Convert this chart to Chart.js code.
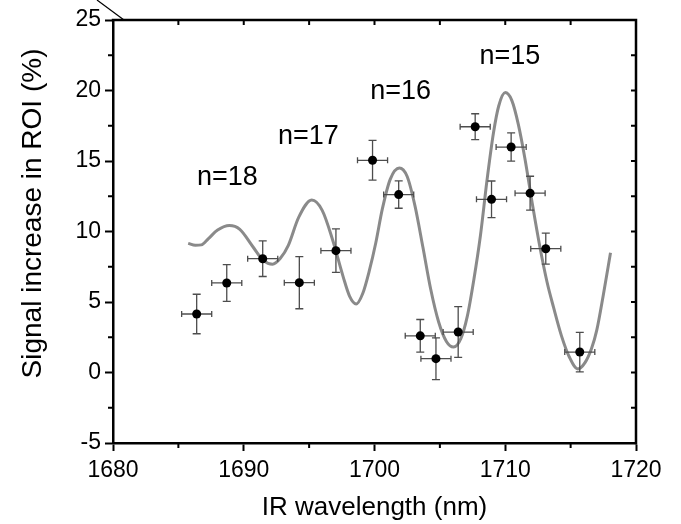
<!DOCTYPE html>
<html>
<head>
<meta charset="utf-8">
<script src="https://cdn.jsdelivr.net/npm/chart.js@4.4.1/dist/chart.umd.min.js"></script>
<style>
  html, body { margin: 0; padding: 0; background: #fff; }
</style>
</head>
<body>
<canvas id="chart" width="681" height="524"></canvas>
<script>
// measured points (nm, %), with error bars
const wavelength    = [1686.4, 1688.7, 1691.45, 1694.25, 1697.05, 1699.85, 1701.85, 1703.5, 1704.7, 1706.4, 1707.7, 1708.95, 1710.45, 1711.9, 1713.1, 1715.7]
const signal        = [4.15, 6.35, 8.07, 6.37, 8.64, 15.05, 12.62, 2.6, 0.98, 2.87, 17.43, 12.28, 15.99, 12.72, 8.78, 1.45]
const signalErr     = [1.4, 1.3, 1.26, 1.85, 1.54, 1.41, 0.97, 1.16, 1.48, 1.8, 0.92, 1.3, 1.0, 1.2, 1.1, 1.4]
const wavelengthErr = [1.15, 1.15, 1.15, 1.15, 1.15, 1.15, 1.15, 1.15, 1.15, 1.15, 1.15, 1.15, 1.15, 1.15, 1.15, 1.15]

// fitted curve
const fitX = [1685.75, 1686.3, 1686.75, 1687.3, 1688.0, 1688.9, 1689.7, 1690.7, 1691.5, 1692.2, 1692.8, 1693.4, 1694.2, 1695.2, 1696.0, 1696.8, 1697.6, 1698.1, 1698.6, 1699.1, 1699.6, 1700.1, 1700.6, 1701.2, 1701.9, 1702.5, 1703.1, 1703.7, 1704.3, 1704.9, 1705.5, 1706.05, 1706.6, 1707.1, 1707.6, 1708.1, 1708.6, 1709.1, 1709.5, 1710.0, 1710.5, 1711.0, 1711.5, 1712.1, 1712.65, 1713.2, 1713.7, 1714.3, 1714.9, 1715.55, 1716.1, 1716.6, 1717.0, 1717.5, 1718.05]
const fitY = [9.16, 9.02, 9.05, 9.5, 10.1, 10.42, 10.15, 8.92, 7.95, 7.68, 8.1, 9.0, 11.0, 12.23, 11.5, 9.4, 6.8, 5.4, 4.86, 5.6, 7.2, 9.2, 11.6, 13.7, 14.5, 13.9, 11.8, 8.9, 5.9, 3.6, 2.2, 1.8, 2.4, 4.0, 6.6, 9.7, 13.6, 17.0, 18.9, 19.85, 19.3, 17.6, 15.2, 11.8, 8.9, 6.4, 4.6, 2.6, 1.1, 0.25, 0.7, 1.7, 3.0, 5.5, 8.5]

// order labels
const orderLabels = ['n=18', 'n=17', 'n=16', 'n=15']
const orderX = [1688.75, 1694.95, 1702.0, 1710.35]
const orderY = [13.8, 16.7, 19.95, 22.4]

const xTicks = [1680, 1690, 1700, 1710, 1720]
const xMinor = [1685, 1695, 1705, 1715]
const yTicks = [-5, 0, 5, 10, 15, 20, 25]
const yMinor = [-2.5, 2.5, 7.5, 12.5, 17.5, 22.5]
const yTitle = 'Signal increase in ROI (%)'

const FONT = "'Liberation Sans', Arial, sans-serif"

const errorBars = {
  id: 'errorBars',
  beforeDatasetDraw(chart, args) {
    if (args.index !== 0) return
    const {ctx, scales: {x, y}} = chart
    ctx.save()
    ctx.strokeStyle = '#4d4d4d'
    ctx.lineWidth = 1.3
    ctx.beginPath()
    wavelength.forEach((w, i) => {
      const px = x.getPixelForValue(w)
      const py = y.getPixelForValue(signal[i])
      const x0 = x.getPixelForValue(w - wavelengthErr[i])
      const x1 = x.getPixelForValue(w + wavelengthErr[i])
      const y0 = y.getPixelForValue(signal[i] - signalErr[i])
      const y1 = y.getPixelForValue(signal[i] + signalErr[i])
      ctx.moveTo(x0, py); ctx.lineTo(x1, py)
      ctx.moveTo(px, y0); ctx.lineTo(px, y1)
      ctx.moveTo(x0, py - 3); ctx.lineTo(x0, py + 3)
      ctx.moveTo(x1, py - 3); ctx.lineTo(x1, py + 3)
      ctx.moveTo(px - 4, y0); ctx.lineTo(px + 4, y0)
      ctx.moveTo(px - 4, y1); ctx.lineTo(px + 4, y1)
    })
    ctx.stroke()
    ctx.restore()
  }
}

const frame = {
  id: 'frame',
  afterDraw(chart) {
    const {ctx, chartArea: a, scales: {x, y}} = chart
    ctx.save()
    ctx.strokeStyle = '#000'
    ctx.lineCap = 'square'
    // top and right border
    ctx.lineWidth = 2.5
    ctx.beginPath()
    ctx.moveTo(a.left, a.top); ctx.lineTo(a.right, a.top); ctx.lineTo(a.right, a.bottom)
    ctx.stroke()
    ctx.lineCap = 'butt'
    ctx.lineWidth = 2
    ctx.beginPath()
    // minor ticks outward
    xMinor.forEach(v => { const p = x.getPixelForValue(v); ctx.moveTo(p, a.bottom); ctx.lineTo(p, a.bottom + 5) })
    yMinor.forEach(v => { const p = y.getPixelForValue(v); ctx.moveTo(a.left, p); ctx.lineTo(a.left - 5, p) })
    // inward ticks on top and right
    xTicks.concat(xMinor).forEach(v => { const p = x.getPixelForValue(v); ctx.moveTo(p, a.top); ctx.lineTo(p, a.top + 5) })
    yTicks.concat(yMinor).forEach(v => { const p = y.getPixelForValue(v); ctx.moveTo(a.right, p); ctx.lineTo(a.right - 5, p) })
    ctx.stroke()
    // small stray line at top-left corner
    ctx.lineWidth = 1.2
    ctx.beginPath()
    ctx.moveTo(a.left - 16, 0); ctx.lineTo(a.left + 11, a.top)
    ctx.stroke()
    ctx.fillStyle = '#000'
    ctx.textAlign = 'center'
    ctx.textBaseline = 'middle'
    // y title, sitting a bit above the plot centre like the original
    ctx.save()
    ctx.translate(33, (a.top + a.bottom) / 2 - 18)
    ctx.rotate(-Math.PI / 2)
    ctx.font = `28px ${FONT}`
    ctx.fillText(yTitle, 0, 0)
    ctx.restore()
    // order labels
    ctx.font = `27px ${FONT}`
    orderLabels.forEach((t, i) => ctx.fillText(t, x.getPixelForValue(orderX[i]), y.getPixelForValue(orderY[i])))
    ctx.restore()
  }
}

new Chart(document.getElementById('chart'), {
  type: 'scatter',
  data: {
    datasets: [
      {
        data: wavelength.map((w, i) => ({x: w, y: signal[i]})),
        pointRadius: 4.5,
        pointBackgroundColor: '#000',
        pointBorderWidth: 0,
        showLine: false
      },
      {
        data: fitX.map((w, i) => ({x: w, y: fitY[i]})),
        showLine: true,
        pointRadius: 0,
        borderColor: '#8a8a8a',
        borderWidth: 3,
        cubicInterpolationMode: 'monotone'
      }
    ]
  },
  options: {
    responsive: false,
    animation: false,
    layout: { padding: { top: 20, right: 45, left: 0, bottom: 0 } },
    plugins: { legend: { display: false }, tooltip: { enabled: false } },
    scales: {
      x: {
        type: 'linear',
        min: 1680, max: 1720,
        afterFit: s => { s.height = 81 },
        afterBuildTicks: s => { s.ticks = xTicks.map(v => ({value: v})) },
        ticks: { callback: v => String(v), color: '#000', font: { family: FONT, size: 23 }, padding: 6, maxRotation: 0 },
        grid: { drawOnChartArea: false, tickLength: 8, tickColor: '#000', tickWidth: 2 },
        border: { color: '#000', width: 2.5 },
        title: { display: true, text: 'IR wavelength (nm)', color: '#000', font: { family: FONT, size: 26 }, padding: { bottom: 1 } }
      },
      y: {
        min: -5, max: 25,
        afterFit: s => { s.width = 113 },
        afterBuildTicks: s => { s.ticks = yTicks.map(v => ({value: v})) },
        ticks: { callback: v => String(v), color: '#000', font: { family: FONT, size: 23 }, padding: 4 },
        grid: { drawOnChartArea: false, tickLength: 8, tickColor: '#000', tickWidth: 2 },
        border: { color: '#000', width: 2.5 }
      }
    }
  },
  plugins: [errorBars, frame]
})
</script>
</body>
</html>
